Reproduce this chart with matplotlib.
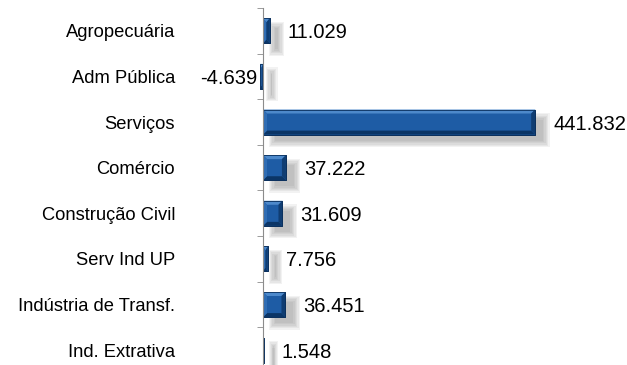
import matplotlib
matplotlib.use('agg')
import matplotlib.pyplot as plt
from matplotlib.patches import Rectangle, Polygon
import matplotlib.transforms as mtransforms

# data
setores = ['Agropecuária', 'Adm Pública', 'Serviços', 'Comércio',
           'Construção Civil', 'Serv Ind UP', 'Indústria de Transf.',
           'Ind. Extrativa']
saldo = [11.029, -4.639, 441.832, 37.222, 31.609, 7.756, 36.451, 1.548]
rotulos = ['11.029', '-4.639', '441.832', '37.222', '31.609', '7.756',
           '36.451', '1.548']

plt.rcParams['font.family'] = ['Liberation Sans', 'DejaVu Sans']

W, H = 627, 365
fig = plt.figure(figsize=(W / 100, H / 100), dpi=100)

# axes geometry in pixels
x_lo, x_hi = -8, 470
px_per_unit = 0.616
ax_left = 263 + x_lo * px_per_unit
ax_w = (x_hi - x_lo) * px_per_unit
ax_top, ax_bot = 8, 373
ax = fig.add_axes([ax_left / W, 1 - ax_bot / H, ax_w / W, (ax_bot - ax_top) / H])
ax.set_xlim(x_lo, x_hi)
ax.set_ylim(len(setores) - 0.5, -0.5)

sx = 1 / px_per_unit                       # data units per px (x)
sy = len(setores) / (ax_bot - ax_top)      # data units per px (y)

bar_h = 0.55
face = '#1e5ca5'
top_c, left_c, bot_c, right_c = '#4d89cb', '#2f6db4', '#0b3566', '#103d72'


def shadow(x0, x1, yc):
    dx, dy = 10 * sx, 8 * sy
    a, b = min(x0, x1) + dx, max(x0, x1) + dx
    for k in range(6):
        ex, ey = k * 1.3 * sx, k * 1.3 * sy
        ax.add_patch(Rectangle((a - ex + 2 * sx, yc - bar_h / 2 + dy - ey + 2 * sy),
                               (b - a) + 2 * ex - 4 * sx, bar_h + 2 * ey - 4 * sy,
                               facecolor='#707070', edgecolor='none',
                               alpha=0.09, zorder=1))


def bevel_bar(x0, x1, yc):
    a, b = min(x0, x1), max(x0, x1)
    t, bt = yc - bar_h / 2, yc + bar_h / 2
    bx = min(4 * sx, (b - a) / 2)
    by = min(4 * sy, bar_h / 2)
    ax.add_patch(Rectangle((a, t), b - a, bar_h, facecolor=face,
                           edgecolor='#0a2f5c', linewidth=0.6, zorder=3))
    pieces = [
        ([(a, t), (b, t), (b - bx, t + by), (a + bx, t + by)], top_c),
        ([(a, bt), (b, bt), (b - bx, bt - by), (a + bx, bt - by)], bot_c),
        ([(a, t), (a + bx, t + by), (a + bx, bt - by), (a, bt)], left_c),
        ([(b, t), (b - bx, t + by), (b - bx, bt - by), (b, bt)], right_c),
    ]
    for pts, c in pieces:
        ax.add_patch(Polygon(pts, closed=True, facecolor=c, edgecolor='none',
                             zorder=4))
    ax.add_patch(Rectangle((a, t), b - a, bar_h, facecolor='none',
                           edgecolor='#0a2f5c', linewidth=0.6, zorder=5))


for i, v in enumerate(saldo):
    shadow(0, v, i)
    bevel_bar(0, v, i)

# value labels
for i, (v, lab) in enumerate(zip(saldo, rotulos)):
    if v >= 0:
        tr = mtransforms.offset_copy(ax.transData, fig=fig, x=18, y=-2, units='dots')
        ax.text(v, i, lab, transform=tr, ha='left', va='center', fontsize=14.5,
                color='black', zorder=6)
    else:
        tr = mtransforms.offset_copy(ax.transData, fig=fig, x=-3, y=-2, units='dots')
        ax.text(v, i, lab, transform=tr, ha='right', va='center', fontsize=14.5,
                color='black', zorder=6)

# category labels, right aligned at x = 175 px
lab_tr = mtransforms.blended_transform_factory(fig.transFigure, ax.transData)
lab_tr = lab_tr + mtransforms.ScaledTranslation(0, -2 / 100, fig.dpi_scale_trans)
for i, s in enumerate(setores):
    ax.text(175 / W, i, s, transform=lab_tr, ha='right', va='center',
            fontsize=13.2, color='black')

# axis styling
for sp in ['top', 'right', 'bottom']:
    ax.spines[sp].set_visible(False)
ax.spines['left'].set_position(('data', 0))
ax.spines['left'].set_color('#8c8c8c')
ax.spines['left'].set_zorder(7)
ax.set_xticks([])
ax.set_yticks([])
ax.set_yticks([i - 0.5 for i in range(len(setores) + 1)], minor=True)
ax.tick_params(axis='y', which='minor', direction='out', length=4,
               color='#8c8c8c', labelleft=False)
ax.patch.set_alpha(0)

plt.savefig('out.png', dpi=100)
